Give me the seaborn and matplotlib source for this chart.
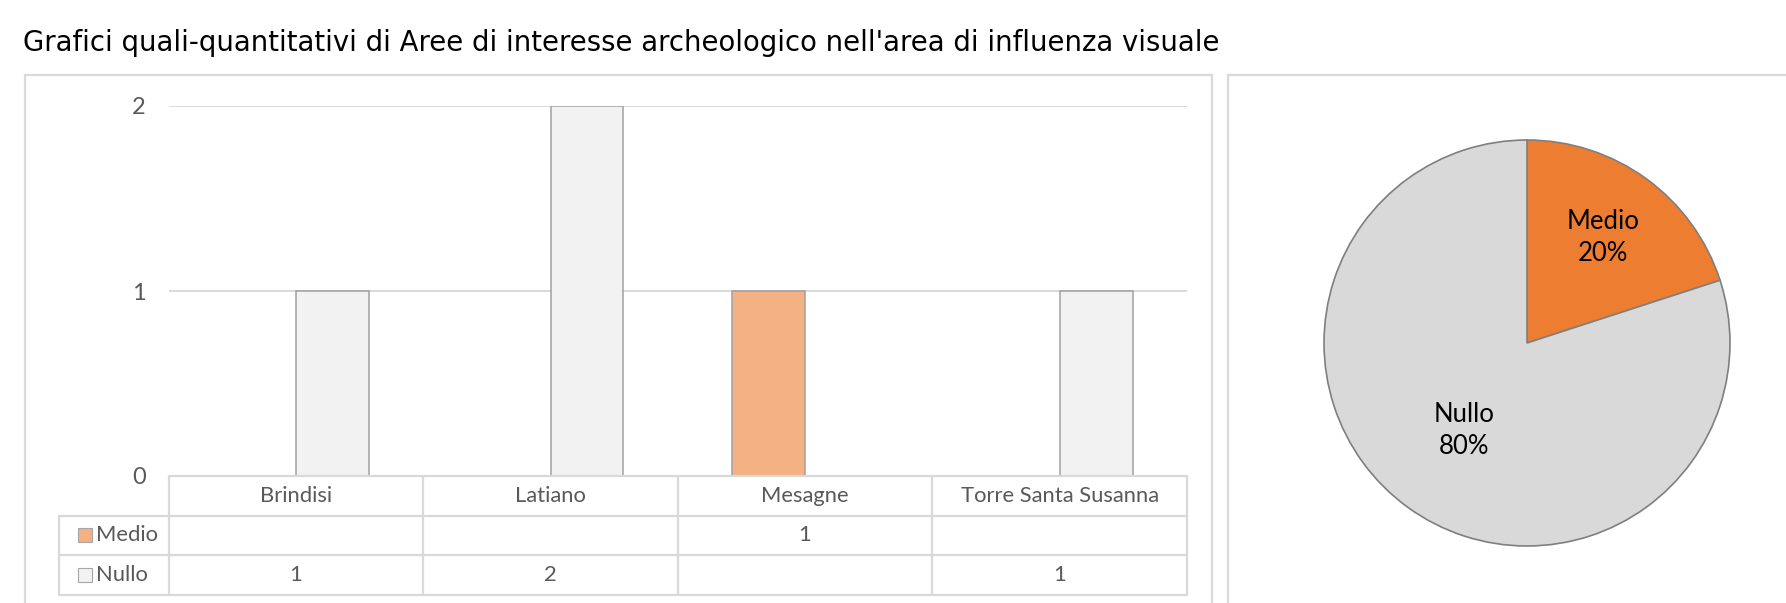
import numpy as np
import pandas as pd
import matplotlib
matplotlib.use("Agg")
import matplotlib.pyplot as plt
import matplotlib.transforms as mtransforms
from matplotlib.patches import Rectangle
import seaborn as sns

# ---- data ----
title = "Grafici quali-quantitativi di Aree di interesse archeologico nell'area di influenza visuale"
categories = ["Brindisi", "Latiano", "Mesagne", "Torre Santa Susanna"]
series = ["Medio", "Nullo"]
medio_values = [np.nan, np.nan, 1, np.nan]
nullo_values = [1, 2, np.nan, 1]
y_ticks = [0, 1, 2]
pie_labels = ["Medio", "Nullo"]
pie_values = [20, 80]

bar_colors = {"Medio": "#F4B183", "Nullo": "#F2F2F2"}
pie_colors = ["#ED7D31", "#D9D9D9"]
pie_label_dist = [0.64, 0.53]

sns.set_theme(style="white")
plt.rcParams['font.family'] = ['Lato', 'DejaVu Sans']

W, H = 1786, 603
fig = plt.figure(figsize=(W / 100, H / 100), dpi=100)

def fx(px):
    return px / W

def fy(py):
    return 1 - py / H

# panel borders
for (x0, y0, x1, y1) in [(25, 75, 1212, 640), (1228, 75, 1810, 640)]:
    fig.add_artist(Rectangle((fx(x0), fy(y1)), fx(x1) - fx(x0), fy(y0) - fy(y1),
                             transform=fig.transFigure, fill=False,
                             edgecolor="#D9D9D9", lw=1.6, clip_on=False))

fig.text(fx(23), fy(43), title, fontsize=19.85, family=['DejaVu Sans'],
         color="#000000", va="center", ha="left")

# ---- bar chart ----
ax_l, ax_r, ax_t, ax_b = 168.6, 1187, 106, 476
ax = fig.add_axes([fx(ax_l), fy(ax_b), fx(ax_r) - fx(ax_l), fy(ax_t) - fy(ax_b)])

df = pd.DataFrame({
    "Comune": categories * 2,
    "Classe": ["Medio"] * 4 + ["Nullo"] * 4,
    "Valore": medio_values + nullo_values,
}).dropna()

sns.barplot(data=df, x="Comune", y="Valore", hue="Classe", order=categories,
            hue_order=series, palette=bar_colors, width=0.573, dodge=True,
            saturation=1, edgecolor="#A0A0A0", linewidth=1.1, legend=False,
            ax=ax, errorbar=None)

ax.set_xlim(-0.5, len(categories) - 0.5)
ax.set_ylim(0, 2)
ax.set_yticks(y_ticks)
ax.set_yticklabels([str(t) for t in y_ticks])
ax.tick_params(axis="y", length=0, pad=16.5, labelsize=17, labelcolor="#595959")
ax.set_xticks([])
ax.set_xlabel("")
ax.set_ylabel("")
for s in ax.spines.values():
    s.set_visible(False)
for t in y_ticks[1:]:
    ax.axhline(t, color="#D9D9D9", lw=1.4, zorder=0)

# table beneath the bars
ax_h = ax_b - ax_t
row_h = 39.5 / ax_h
px_per_unit = (ax_r - ax_l) / len(categories)
lab_left = -0.5 - (ax_l - 59) / px_per_unit
trans = mtransforms.blended_transform_factory(ax.transData, ax.transAxes)
lc = "#D9D9D9"
lw = 1.6
ax.plot([-0.5, 3.5], [0, 0], color=lc, lw=lw, transform=trans, clip_on=False)
for k in (1, 2, 3):
    ax.plot([lab_left, 3.5], [-k * row_h, -k * row_h], color=lc, lw=lw,
            transform=trans, clip_on=False)
for xv in np.arange(len(categories) + 1) - 0.5:
    ax.plot([xv, xv], [0, -3 * row_h], color=lc, lw=lw, transform=trans, clip_on=False)
ax.plot([lab_left, lab_left], [-row_h, -3 * row_h], color=lc, lw=lw,
        transform=trans, clip_on=False)

tc = "#595959"
for i, c in enumerate(categories):
    ax.text(i, -0.5 * row_h, c, transform=trans, ha="center", va="center",
            fontsize=15.8, color=tc)
rows = {"Medio": medio_values, "Nullo": nullo_values}
for r, name in enumerate(series):
    yc = -(1.5 + r) * row_h
    key_x = -0.5 - (ax_l - 85) / px_per_unit
    ax.plot([key_x], [yc], marker="s", markersize=9.5,
            markerfacecolor=bar_colors[name], markeredgecolor="#A6A6A6",
            markeredgewidth=0.8, transform=trans, clip_on=False)
    ax.text(-0.5 - (ax_l - 96) / px_per_unit, yc, name, transform=trans,
            ha="left", va="center", fontsize=15.8, color=tc)
    for i, v in enumerate(rows[name]):
        if not np.isnan(v):
            ax.text(i, yc, f"{int(v)}", transform=trans, ha="center", va="center",
                    fontsize=15.8, color=tc)

# ---- pie chart ----
cx, cy, rad = 1527, 343, 204
axp = fig.add_axes([fx(cx - rad), fy(cy + rad), fx(2 * rad), (2 * rad) / H])
wedges, _ = axp.pie(pie_values, colors=pie_colors, startangle=90, counterclock=False,
                    wedgeprops=dict(edgecolor="#7F7F7F", linewidth=1.2))
axp.set_xlim(-1.005, 1.005)
axp.set_ylim(-1.005, 1.005)
total = sum(pie_values)
for w, lab, v, d in zip(wedges, pie_labels, pie_values, pie_label_dist):
    ang = np.deg2rad((w.theta1 + w.theta2) / 2)
    axp.text(d * np.cos(ang), d * np.sin(ang), f"{lab}\n{v / total * 100:.0f}%",
             ha="center", va="center", fontsize=18.5, color="#000000",
             linespacing=1.35)

fig.savefig("out.png", dpi=100)
